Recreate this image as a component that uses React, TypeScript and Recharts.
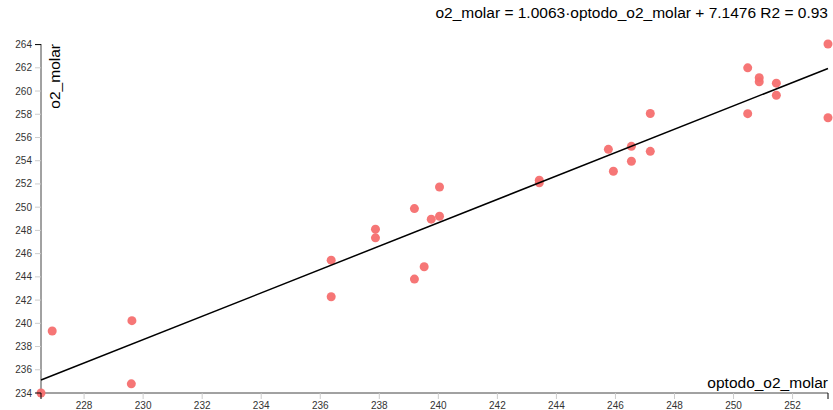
import React from "react";
import { ScatterChart, Scatter, XAxis, YAxis } from "recharts";

// optodo_o2_molar (x) vs o2_molar (y)
const optodo = [
  226.54, 226.92, 229.62, 229.6, 236.37, 236.37, 237.87, 237.87, 239.19, 239.19,
  239.52, 239.76, 240.04, 240.04, 243.42, 243.42, 245.76, 245.93, 246.54, 246.54,
  247.18, 247.18, 250.48, 250.48, 250.87, 250.87, 251.45, 251.45, 253.2, 253.2,
];
const o2 = [
  234.0, 239.34, 240.23, 234.79, 245.44, 242.29, 248.11, 247.36, 249.88, 243.81,
  244.87, 248.97, 249.22, 251.74, 252.32, 252.1, 254.98, 253.09, 255.24, 253.95,
  258.07, 254.81, 262.0, 258.05, 261.14, 260.8, 260.68, 259.64, 264.05, 257.7,
];

const slope = 1.0063;
const intercept = 7.1476;
const r2 = 0.93;

const xTicks = [228, 230, 232, 234, 236, 238, 240, 242, 244, 246, 248, 250, 252];
const yTicks = [234, 236, 238, 240, 242, 244, 246, 248, 250, 252, 254, 256, 258, 260, 262, 264];

const points = optodo.map((x, i) => ({ x, y: o2[i] }));
const xMin = Math.min(...optodo);
const xMax = Math.max(...optodo);
const fit = [xMin, xMax].map((x) => ({ x, y: slope * x + intercept }));

const W = 833;
const H = 410;
const FONT = "'Liberation Sans', Arial, sans-serif";

const XTick = (props: any) => {
  const { x, y, payload } = props;
  const isEnd = !xTicks.includes(payload.value);
  return (
    <g>
      <line x1={x} x2={x} y1={y - 9} y2={y - 3} stroke={isEnd ? "#000" : "#ccc"} />
      {!isEnd && (
        <text x={x} y={y} dy="0.71em" textAnchor="middle" fontSize={10} fill="#333" fontFamily={FONT}>
          {payload.value}
        </text>
      )}
    </g>
  );
};

const YTick = (props: any) => {
  const { x, y, payload } = props;
  const isEnd = payload.value === yTicks[yTicks.length - 1] || payload.value === yTicks[0];
  return (
    <g>
      <line x1={x + 3} x2={x + 9} y1={y} y2={y} stroke={isEnd ? "#000" : "#ccc"} />
      <text x={x} y={y} dy="0.355em" textAnchor="end" fontSize={10} fill="#333" fontFamily={FONT}>
        {payload.value}
      </text>
    </g>
  );
};

export default function App() {
  return (
    <div style={{ position: "absolute", left: 0, top: 0, width: W, height: H, background: "#fff" }}>
      <ScatterChart width={W} height={H} margin={{ top: 44, right: 5, bottom: 0, left: 0 }}>
        <XAxis
          type="number"
          dataKey="x"
          domain={["dataMin", "dataMax"]}
          ticks={[xMin, ...xTicks, xMax]}
          interval={0}
          height={17}
          tickSize={6}
          tickMargin={3}
          tickLine={false}
          tick={<XTick />}
          axisLine={{ stroke: "#444" }}
        />
        <YAxis
          type="number"
          dataKey="y"
          domain={["dataMin", "dataMax"]}
          ticks={yTicks}
          interval={0}
          width={41}
          tickSize={6}
          tickMargin={3}
          tickLine={false}
          tick={<YTick />}
          axisLine={{ stroke: "#444" }}
        />
        <Scatter
          data={points}
          isAnimationActive={false}
          shape={(p: any) => <circle cx={p.cx} cy={p.cy} r={4.5} fill="#f56f6f" fillOpacity={0.95} />}
        />
        <Scatter
          data={fit}
          isAnimationActive={false}
          line={{ stroke: "#000", strokeWidth: 1.5 }}
          shape={() => <g />}
        />
      </ScatterChart>
      <svg
        width={W}
        height={H}
        style={{ position: "absolute", left: 0, top: 0, pointerEvents: "none" }}
        fontFamily={FONT}
      >
        <text x={828} y={18} textAnchor="end" fontSize={15.5} fill="#000">
          {`o2_molar = ${slope.toFixed(4)}·optodo_o2_molar + ${intercept.toFixed(4)} R2 = ${r2}`}
        </text>
        <text transform="rotate(-90)" x={-44} y={60} textAnchor="end" fontSize={15.5} fill="#000">
          o2_molar
        </text>
        <text x={828} y={388} textAnchor="end" fontSize={15.5} fill="#000">
          optodo_o2_molar
        </text>
      </svg>
    </div>
  );
}
